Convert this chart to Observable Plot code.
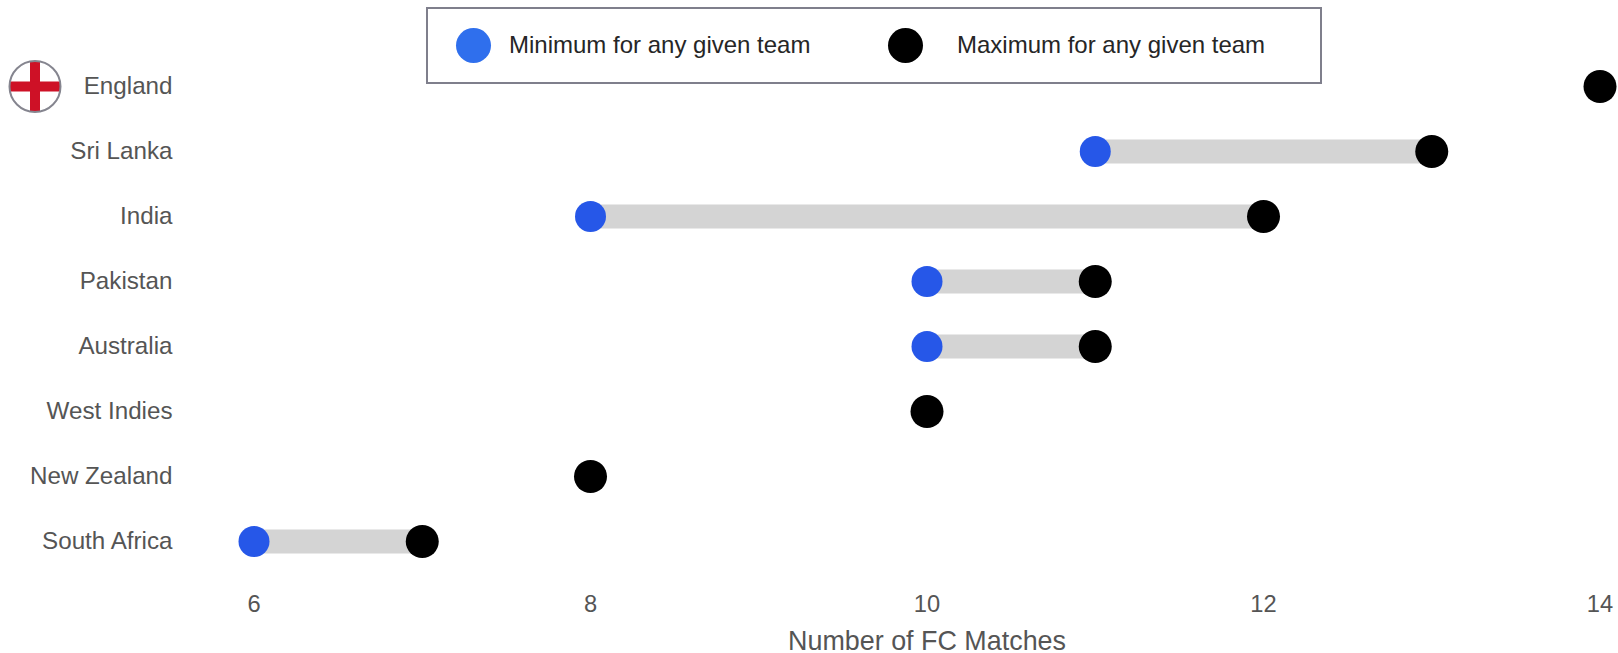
<!DOCTYPE html>
<html>
<head>
<meta charset="utf-8">
<script src="https://cdn.jsdelivr.net/npm/d3@7"></script>
<script src="https://cdn.jsdelivr.net/npm/@observablehq/plot@0.6"></script>
<style>
html,body{margin:0;padding:0;background:#fff;font-family:"Liberation Sans",Arial,sans-serif;}
#wrap{position:relative;width:1618px;height:653px;overflow:hidden;}
#legend{position:absolute;left:426px;top:7px;width:892px;height:73px;border:2px solid #7f7f8c;background:#fff;color:#262626;font-size:24px;line-height:71px;}
#legend span{position:absolute;white-space:nowrap;}
#legend i{position:absolute;border-radius:50%;display:block;}
</style>
</head>
<body>
<div id="wrap">
  <div id="chart"></div>
  <div id="legend"></div>
</div>
<script>
const teams = ["England","Sri Lanka","India","Pakistan","Australia","West Indies","New Zealand","South Africa"];
const minValues = [14,11,8,10,10,10,8,6];
const maxValues = [14,13,12,11,11,10,8,7];
const xTicks = [6,8,10,12,14];
const legendLabels = ["Minimum for any given team","Maximum for any given team"];
const flagTeam = ["England"];

const rows = teams.map((team,i)=>({team,min:minValues[i],max:maxValues[i]}));
const ranged = rows.filter(d=>d.min!==d.max);

const flagSvg = `<svg xmlns="http://www.w3.org/2000/svg" width="54" height="54" viewBox="0 0 54 54"><defs><clipPath id="c"><circle cx="27" cy="27" r="25.5"/></clipPath></defs><g clip-path="url(#c)"><rect width="54" height="54" fill="#fff"/><rect x="22" width="10" height="54" fill="#ce1126"/><rect y="22" width="54" height="10" fill="#ce1126"/></g><circle cx="27" cy="27" r="25.5" fill="none" stroke="#85858f" stroke-width="2"/></svg>`;
const flagSrc = "data:image/svg+xml;utf8," + encodeURIComponent(flagSvg);

const chart = Plot.plot({
  width:1618,
  height:653,
  marginLeft:253.5,
  marginRight:18.5,
  marginTop:0,
  marginBottom:64,
  style:{fontFamily:'"Liberation Sans",Arial,sans-serif',background:"#fff",overflow:"visible"},
  x:{domain:[6,14]},
  y:{type:"point",domain:teams,range:[85.2,541.7],padding:0},
  marks:[
    Plot.axisY({anchor:"left",tickSize:0,tickPadding:81.5,fontSize:24.2,color:"#555",label:null,textStroke:"none"}),
    Plot.axisX({anchor:"bottom",ticks:xTicks,tickSize:0,tickPadding:6,fontSize:23.7,color:"#555",
      label:"Number of FC Matches",labelAnchor:"center",labelArrow:"none",labelOffset:60}),
    Plot.ruleY(ranged,{y:"team",x1:"min",x2:"max",stroke:"#d4d4d4",strokeWidth:24}),
    Plot.dot(ranged,{x:"min",y:"team",r:15.5,fill:"#2657e8"}),
    Plot.dot(rows,{x:"max",y:"team",r:16.5,fill:"#000"}),
    Plot.image(flagTeam,{y:d=>d,src:()=>flagSrc,frameAnchor:"left",dx:-219,width:54,height:54})
  ]
});
document.getElementById("chart").appendChild(chart);
chart.querySelectorAll("text").forEach(t=>{
  if(t.textContent==="Number of FC Matches"){t.style.fontSize="26.9px";t.setAttribute("fill","#555");}
});

const legend = document.getElementById("legend");
[{c:"#2f6fed",d:35,cx:45,tx:81},{c:"#000",d:35,cx:477,tx:529}].forEach((s,i)=>{
  const dot=document.createElement("i");
  dot.style.cssText=`left:${s.cx-s.d/2}px;top:${36.5-s.d/2}px;width:${s.d}px;height:${s.d}px;background:${s.c}`;
  legend.appendChild(dot);
  const t=document.createElement("span");
  t.style.left=s.tx+"px";t.style.top="0";t.textContent=legendLabels[i];
  legend.appendChild(t);
});
</script>
</body>
</html>
